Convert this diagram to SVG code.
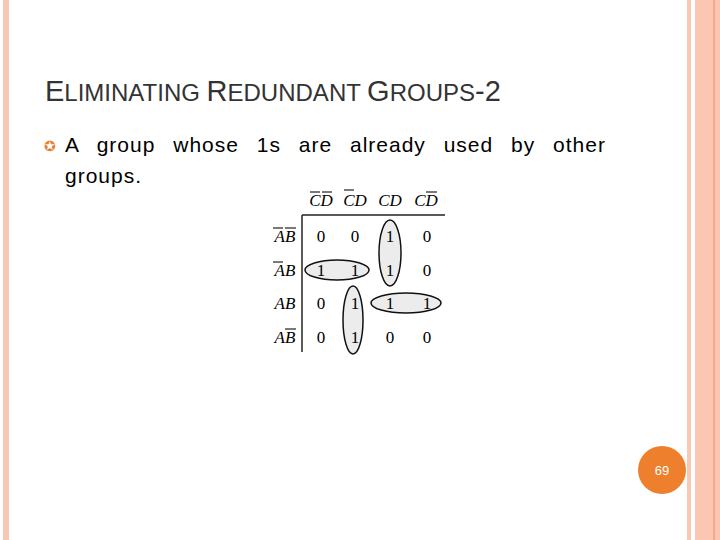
<svg xmlns="http://www.w3.org/2000/svg" width="720" height="540" viewBox="0 0 720 540">
<style>
.k{font-family:"Liberation Serif",serif;font-size:17px;text-anchor:middle}
.h{font-family:"Liberation Serif",serif;font-size:17px;font-style:italic;text-anchor:middle}
.e{fill:#e4e4e4;fill-opacity:0.7;stroke:#111;stroke-width:1.5}
.o{stroke:#222;stroke-width:1.2}
</style>
<rect width="720" height="540" fill="#fff"/>
<rect x="3" y="0" width="6" height="540" fill="#f9c8b4"/>
<rect x="687" y="0" width="4" height="540" fill="#f9c8b4"/>
<rect x="695" y="0" width="25" height="540" fill="#fcc7b2"/>
<line x1="714" y1="0" x2="714" y2="540" stroke="#e89060" stroke-width="1"/>
<text x="45" y="101" font-family="Liberation Sans,sans-serif" fill="#333"><tspan font-size="29">E</tspan><tspan font-size="24">LIMINATING </tspan><tspan font-size="29">R</tspan><tspan font-size="24">EDUNDANT </tspan><tspan font-size="29">G</tspan><tspan font-size="24">ROUPS</tspan><tspan font-size="29">-2</tspan></text>
<text x="44" y="151" font-family="Liberation Sans,sans-serif" font-size="14" fill="#e8802f">✪</text>
<text font-family="Liberation Sans,sans-serif" font-size="21" fill="#000" letter-spacing="1"><tspan x="65" y="152" word-spacing="11">A group whose 1s are already used by other</tspan><tspan x="65" y="183">groups.</tspan></text>
<g id="kmap">
<line x1="302" y1="215" x2="445" y2="215" stroke="#222" stroke-width="1.5"/>
<line x1="302" y1="215" x2="302" y2="352" stroke="#222" stroke-width="1.5"/>
<ellipse class="e" cx="390" cy="253" rx="11" ry="33"/>
<ellipse class="e" cx="337" cy="270" rx="32" ry="10"/>
<ellipse class="e" cx="353" cy="320" rx="10" ry="34"/>
<ellipse class="e" cx="406" cy="303" rx="35" ry="10"/>
<text class="h" x="321" y="206">CD</text><line class="o" x1="310" y1="192" x2="320" y2="192"/><line class="o" x1="322" y1="192" x2="332" y2="192"/>
<text class="h" x="355" y="206">CD</text><line class="o" x1="344" y1="190" x2="354" y2="190"/>
<text class="h" x="390" y="206">CD</text>
<text class="h" x="426" y="206">CD</text><line class="o" x1="426" y1="192" x2="437" y2="192"/>
<text class="h" x="285" y="242">AB</text><line class="o" x1="273" y1="228" x2="283" y2="228"/><line class="o" x1="285" y1="228" x2="296" y2="228"/>
<text class="h" x="285" y="276">AB</text><line class="o" x1="273" y1="262" x2="283" y2="262"/>
<text class="h" x="285" y="309">AB</text>
<text class="h" x="285" y="343">AB</text><line class="o" x1="285" y1="329" x2="296" y2="329"/>
<text class="k" x="321" y="242">0</text><text class="k" x="355" y="242">0</text><text class="k" x="390" y="242">1</text><text class="k" x="427" y="242">0</text>
<text class="k" x="321" y="276">1</text><text class="k" x="355" y="276">1</text><text class="k" x="390" y="276">1</text><text class="k" x="427" y="276">0</text>
<text class="k" x="321" y="309">0</text><text class="k" x="355" y="309">1</text><text class="k" x="390" y="309">1</text><text class="k" x="427" y="309">1</text>
<text class="k" x="321" y="343">0</text><text class="k" x="355" y="343">1</text><text class="k" x="390" y="343">0</text><text class="k" x="427" y="343">0</text>
</g>
<g id="page"><circle cx="662" cy="470" r="24" fill="#ee7f2d"/><text x="662" y="475" font-family="Liberation Sans,sans-serif" font-size="13" fill="#fff" text-anchor="middle">69</text></g>
</svg>
